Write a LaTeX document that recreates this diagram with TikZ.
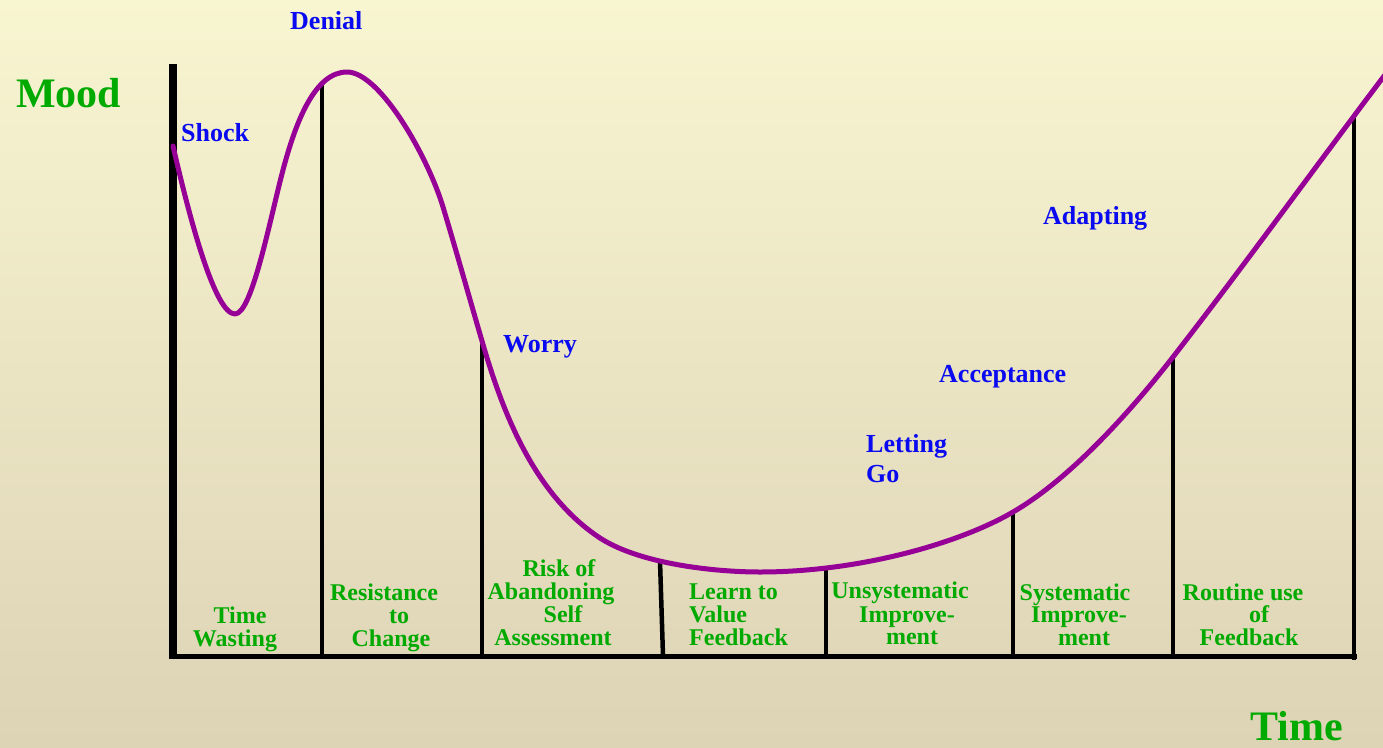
\documentclass[tikz,border=0pt]{standalone}
\usepackage{fontspec}
\setmainfont{Liberation Serif}
\definecolor{bgtop}{RGB}{248,245,209}
\definecolor{bgbot}{RGB}{221,211,181}
\definecolor{moodgreen}{RGB}{0,170,0}
\definecolor{stageblue}{RGB}{10,10,240}
\definecolor{curvepurple}{RGB}{150,0,150}
\begin{document}
\begin{tikzpicture}[x=1pt,y=-1pt,
  axisline/.style={line width=#1, black},
  divider/.style={line width=4.5pt, black},
  moodcurve/.style={line width=5pt, curvepurple, line cap=round, line join=round},
  stagelabel/.style={font=\fontsize{26}{30}\selectfont\bfseries, text=stageblue, anchor=base west, inner sep=0pt},
  phaselabel/.style={font=\fontsize{24}{23}\selectfont\bfseries, text=moodgreen, anchor=base, inner sep=0pt},
  phaseleft/.style={phaselabel, anchor=base west},
  axislabel/.style={font=\fontsize{42}{46}\selectfont\bfseries, text=moodgreen, anchor=base west, inner sep=0pt}]
\shade[top color=bgtop, bottom color=bgbot] (0,0) rectangle (1383,747);
\useasboundingbox (0,0) rectangle (1383,747);

% axes
\coordinate (ytop) at (173,64);
\coordinate (ybot) at (173,659);
\coordinate (xl) at (170,656);
\coordinate (xr) at (1357,656);
\draw[axisline=8pt] (ytop) -- (ybot);
\draw[axisline=5pt] (xl) -- (xr);

% dividers
\coordinate (d1t) at (322,82);   \coordinate (d1b) at (322,656);
\coordinate (d2t) at (482,340);  \coordinate (d2b) at (482,656);
\coordinate (d3t) at (660,561);  \coordinate (d3b) at (663,656);
\coordinate (d4t) at (826,567);  \coordinate (d4b) at (826,656);
\coordinate (d5t) at (1013,512); \coordinate (d5b) at (1013,656);
\coordinate (d6t) at (1173,357); \coordinate (d6b) at (1173,656);
\coordinate (d7t) at (1354,114); \coordinate (d7b) at (1354,660);
\foreach \i in {1,...,6} \draw[divider] (d\i t) -- (d\i b);
\draw[divider] (d7t) -- (d7b);

% mood curve
\draw[moodcurve] (173,146) .. controls (190,220) and (215,314) .. (235,314)
 .. controls (252,314) and (270,219) .. (283,170)
 .. controls (296,121) and (315,72) .. (347,72)
 .. controls (380,72) and (428,157) .. (443,207)
 .. controls (456,250) and (470,300) .. (482,341)
 .. controls (500,403) and (530,490) .. (597,536)
 .. controls (637,564) and (715,572) .. (760,572)
 .. controls (860,572) and (960,543) .. (1013,512)
 .. controls (1070,479) and (1130,412) .. (1173,357)
 .. controls (1250,258) and (1320,160) .. (1400,55);

% axis labels
\node[axislabel] (mood) at (16,107) {Mood};
\node[axislabel] (time) at (1250,740) {Time};

% stage labels
\node[stagelabel] (denial) at (290,29) {Denial};
\node[stagelabel] (shock) at (181,141) {Shock};
\node[stagelabel] (worry) at (503,352) {Worry};
\node[stagelabel] (letting) at (866,452) {Letting};
\node[stagelabel] (go) at (866,482) {Go};
\node[stagelabel] (acceptance) at (939,382) {Acceptance};
\node[stagelabel] (adapting) at (1043,224) {Adapting};

% phase labels
\node[phaselabel] (tw1) at (240,623) {Time};
\node[phaselabel] (tw2) at (235,646) {Wasting};
\node[phaselabel] (rc1) at (384,600) {Resistance};
\node[phaselabel] (rc2) at (399,623) {to};
\node[phaselabel] (rc3) at (391,646) {Change};
\node[phaselabel] (ra1) at (559,576) {Risk of};
\node[phaselabel] (ra2) at (551,599) {Abandoning};
\node[phaselabel] (ra3) at (563,622) {Self};
\node[phaselabel] (ra4) at (553,645) {Assessment};
\node[phaseleft] (lv1) at (689,599) {Learn to};
\node[phaseleft] (lv2) at (689,622) {Value};
\node[phaseleft] (lv3) at (689,645) {Feedback};
\node[phaselabel] (ui1) at (900,598) {Unsystematic};
\node[phaselabel] (ui2) at (907,622) {Improve-};
\node[phaselabel] (ui3) at (912,644) {ment};
\node[phaselabel] (si1) at (1075,600) {Systematic};
\node[phaselabel] (si2) at (1079,622) {Improve-};
\node[phaselabel] (si3) at (1084,645) {ment};
\node[phaselabel] (rf1) at (1243,600) {Routine use};
\node[phaselabel] (rf2) at (1259,622) {of};
\node[phaselabel] (rf3) at (1249,645) {Feedback};
\end{tikzpicture}
\end{document}
